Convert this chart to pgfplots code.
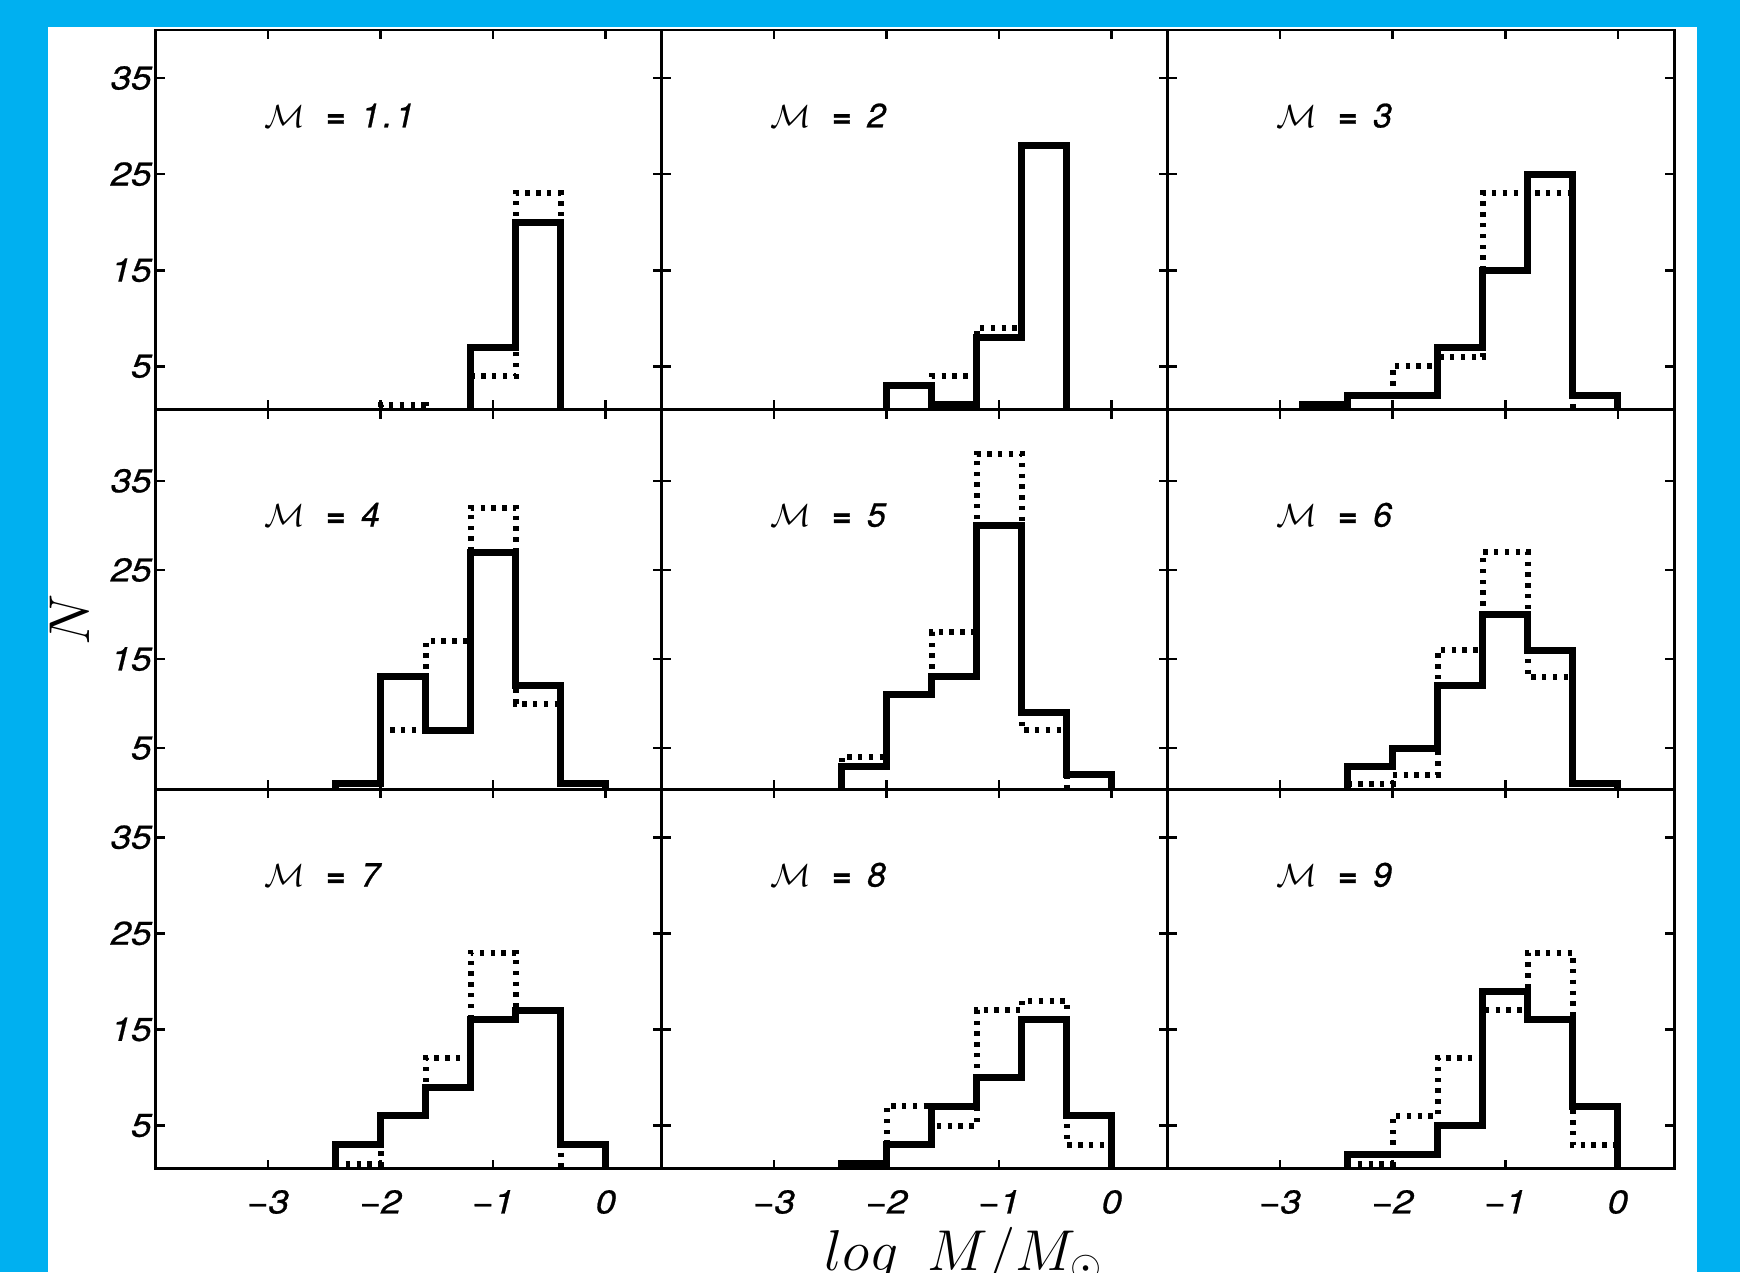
\documentclass[border=0pt]{standalone}
\usepackage{fontspec}
\usepackage{pgfplots}
\pgfplotsset{compat=1.18}
\newfontfamily\hv[FakeStretch=1.12, FakeBold=0.7]{TeX Gyre Heros}
\newfontfamily\hvl[FakeBold=0.8]{TeX Gyre Heros}
\definecolor{skyb}{HTML}{00B0F0}
\newcommand\tf{\hv\itshape\fontsize{8.2}{9}\selectfont}
\newcommand\lab[1]{\hvl\itshape\fontsize{8.4}{10}\selectfont $\mathcal{M}$\hspace{5.2pt}\textbf{=}\hspace{4pt}#1}
\tikzset{lbl/.style={anchor=base west, inner sep=0pt}}
\pgfplotsset{
  panel/.style={
    scale only axis, width=126.67pt, height=94.9pt,
    xmin=-4, xmax=0.5, ymin=0.5, ymax=40,
    xtick={-3,-2,-1,0}, ytick={5,15,25,35},
    xticklabels={}, yticklabels={},
    tick align=inside, major tick length=2.3pt,
    axis line style={line width=0.7pt},
    every tick/.style={black, line width=0.65pt},
    anchor=north west,
  },
  midrow/.style={ymin=0.4, ymax=43},
  bottomrow/.style={xticklabels={−3,−2,−1,0}, xticklabel style={font=\tf, yshift=-1.8pt}},
  leftcol/.style={yticklabels={5,15,25,35}, yticklabel style={font=\tf, xshift=2.6pt}},
  sol/.style={black, line width=1.75pt, const plot, line join=miter},
  dot/.style={black, line width=1.5pt, const plot, dash pattern=on 1.1pt off 1.6pt, line cap=butt},
}
\begin{document}
\begin{tikzpicture}
\useasboundingbox (0pt,0pt) rectangle (435pt,318pt);
\fill[skyb] (0pt,0pt) rectangle (435pt,318pt);
\fill[white] (12pt,0pt) rectangle (424.25pt,311.2pt);
\begin{scope}
\clip (0pt,0pt) rectangle (435pt,318pt);
% Row 1
\begin{axis}[panel, leftcol, at={(38.85pt,310.5pt)}]
\addplot[dot] coordinates {(-2.8,0)(-2.8,0)(-2.4,0)(-2.0,1)(-1.6,0)(-1.2,4)(-0.8,23)(-0.4,0)(0,0)};
\addplot[sol] coordinates {(-2.8,0)(-2.8,0)(-2.4,0)(-2.0,0)(-1.6,0)(-1.2,7)(-0.8,20)(-0.4,0)(0,0)};
\node[lbl] at (axis cs:-3.04,29.87) {\lab{1\kern0.8pt.\kern0.8pt1}};
\end{axis}
\begin{axis}[panel, at={(165.35pt,310.5pt)}]
\addplot[dot] coordinates {(-2.8,0)(-2.8,0)(-2.4,0)(-2.0,3)(-1.6,4)(-1.2,9)(-0.8,28)(-0.4,0)(0,0)};
\addplot[sol] coordinates {(-2.8,0)(-2.8,0)(-2.4,0)(-2.0,3)(-1.6,1)(-1.2,8)(-0.8,28)(-0.4,0)(0,0)};
\node[lbl] at (axis cs:-3.04,29.87) {\lab{2}};
\end{axis}
\begin{axis}[panel, at={(291.85pt,310.5pt)}]
\addplot[dot] coordinates {(-2.8,0)(-2.8,1)(-2.4,2)(-2.0,5)(-1.6,6)(-1.2,23)(-0.8,23)(-0.4,0)(0,0)};
\addplot[sol] coordinates {(-2.8,0)(-2.8,1)(-2.4,2)(-2.0,2)(-1.6,7)(-1.2,15)(-0.8,25)(-0.4,2)(0,0)};
\node[lbl] at (axis cs:-3.04,29.87) {\lab{3}};
\end{axis}
% Row 2
\begin{axis}[panel, midrow, leftcol, at={(38.85pt,215.6pt)}]
\addplot[dot] coordinates {(-2.8,0)(-2.8,0)(-2.4,1)(-2.0,7)(-1.6,17)(-1.2,32)(-0.8,10)(-0.4,1)(0,0)};
\addplot[sol] coordinates {(-2.8,0)(-2.8,0)(-2.4,1)(-2.0,13)(-1.6,7)(-1.2,27)(-0.8,12)(-0.4,1)(0,0)};
\node[lbl] at (axis cs:-3.04,29.87) {\lab{4}};
\end{axis}
\begin{axis}[panel, midrow, at={(165.35pt,215.6pt)}]
\addplot[dot] coordinates {(-2.8,0)(-2.8,0)(-2.4,4)(-2.0,11)(-1.6,18)(-1.2,38)(-0.8,7)(-0.4,0)(0,0)};
\addplot[sol] coordinates {(-2.8,0)(-2.8,0)(-2.4,3)(-2.0,11)(-1.6,13)(-1.2,30)(-0.8,9)(-0.4,2)(0,0)};
\node[lbl] at (axis cs:-3.04,29.87) {\lab{5}};
\end{axis}
\begin{axis}[panel, midrow, at={(291.85pt,215.6pt)}]
\addplot[dot] coordinates {(-2.8,0)(-2.8,0)(-2.4,1)(-2.0,2)(-1.6,16)(-1.2,27)(-0.8,13)(-0.4,1)(0,0)};
\addplot[sol] coordinates {(-2.8,0)(-2.8,0)(-2.4,3)(-2.0,5)(-1.6,12)(-1.2,20)(-0.8,16)(-0.4,1)(0,0)};
\node[lbl] at (axis cs:-3.04,29.87) {\lab{6}};
\end{axis}
% Row 3
\begin{axis}[panel, leftcol, bottomrow, at={(38.85pt,120.7pt)}]
\addplot[dot] coordinates {(-2.8,0)(-2.8,0)(-2.4,1)(-2.0,6)(-1.6,12)(-1.2,23)(-0.8,17)(-0.4,0)(0,0)};
\addplot[sol] coordinates {(-2.8,0)(-2.8,0)(-2.4,3)(-2.0,6)(-1.6,9)(-1.2,16)(-0.8,17)(-0.4,3)(0,0)};
\node[lbl] at (axis cs:-3.04,29.87) {\lab{7}};
\end{axis}
\begin{axis}[panel, bottomrow, at={(165.35pt,120.7pt)}]
\addplot[dot] coordinates {(-2.8,0)(-2.8,0)(-2.4,1)(-2.0,7)(-1.6,5)(-1.2,17)(-0.8,18)(-0.4,3)(0,0)};
\addplot[sol] coordinates {(-2.8,0)(-2.8,0)(-2.4,1)(-2.0,3)(-1.6,7)(-1.2,10)(-0.8,16)(-0.4,6)(0,0)};
\node[lbl] at (axis cs:-3.04,29.87) {\lab{8}};
\end{axis}
\begin{axis}[panel, bottomrow, at={(291.85pt,120.7pt)}]
\addplot[dot] coordinates {(-2.8,0)(-2.8,0)(-2.4,1)(-2.0,6)(-1.6,12)(-1.2,17)(-0.8,23)(-0.4,3)(0,0)};
\addplot[sol] coordinates {(-2.8,0)(-2.8,0)(-2.4,2)(-2.0,2)(-1.6,5)(-1.2,19)(-0.8,16)(-0.4,7)(0,0)};
\node[lbl] at (axis cs:-3.04,29.87) {\lab{9}};
\end{axis}
\node[anchor=base, font=\fontsize{14.3}{16}\selectfont] at (241pt,0.5pt) {$log\enspace M/M_\odot$};
\node[rotate=90, font=\fontsize{14.3}{16}\selectfont] at (17.4pt,163pt) {$N$};
\end{scope}
\end{tikzpicture}
\end{document}
